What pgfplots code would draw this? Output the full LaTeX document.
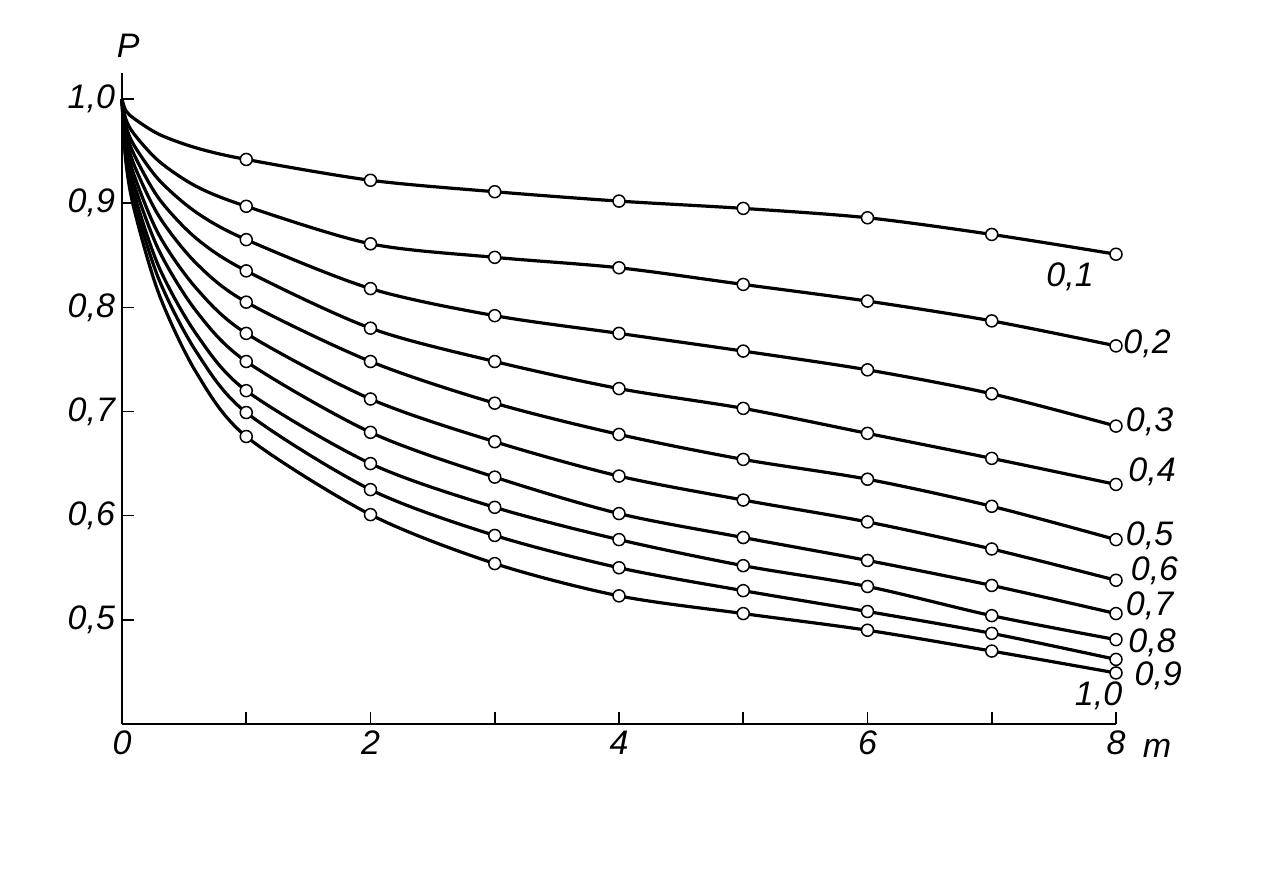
\documentclass[border=0pt]{standalone}
\usepackage{fontspec}
\setmainfont{Liberation Sans}
\usepackage{pgfplots}
\usepackage{pgfplotstable}
\pgfplotsset{compat=1.18}
\pgfplotstableread{
x     c01   c02   c03   c04   c05   c06   c07   c08   c09   c10
0     1.000 1.000 1.000 1.000 1.000 1.000 1.000 1.000 1.000 1.000
0.03  0.989 0.981 0.975 0.970 0.965 0.959 0.954 0.949 0.945 0.941
0.1   0.981 0.966 0.955 0.946 0.936 0.926 0.917 0.908 0.901 0.893
0.3   0.966 0.940 0.922 0.904 0.887 0.869 0.854 0.838 0.826 0.812
0.6   0.953 0.916 0.891 0.866 0.842 0.818 0.796 0.774 0.757 0.737
1     0.942 0.897 0.865 0.835 0.805 0.775 0.748 0.720 0.699 0.676
2     0.922 0.861 0.818 0.780 0.748 0.712 0.680 0.650 0.625 0.601
3     0.911 0.848 0.792 0.748 0.708 0.671 0.637 0.608 0.581 0.554
4     0.902 0.838 0.775 0.722 0.678 0.638 0.602 0.577 0.550 0.523
5     0.895 0.822 0.758 0.703 0.654 0.615 0.579 0.552 0.528 0.506
6     0.886 0.806 0.740 0.679 0.635 0.594 0.557 0.532 0.508 0.490
7     0.870 0.787 0.717 0.655 0.609 0.568 0.533 0.504 0.487 0.470
8     0.851 0.763 0.686 0.630 0.577 0.538 0.506 0.481 0.462 0.449
}\curves
\begin{document}
\begin{tikzpicture}
\useasboundingbox (0,0) rectangle (638pt,435.5pt);
\begin{axis}[
  at={(61pt,73.5pt)}, anchor=south west, scale only axis,
  width=497pt, height=325.5pt,
  xmin=0, xmax=8, ymin=0.4, ymax=1.025,
  axis lines=left, axis line style={-, line width=1pt},
  xtick={0,1,2,3,4,5,6,7,8}, xticklabels={0,,2,,4,,6,,8},
  ytick={0.5,0.6,0.7,0.8,0.9,1.0},
  yticklabels={{0,5},{0,6},{0,7},{0,8},{0,9},{1,0}},
  tick align=inside, major tick length=6pt,
  tick style={black, line width=0.8pt},
  ticklabel style={font=\fontsize{17}{19}\selectfont\itshape},
  clip=false,
  curve/.style={black, solid, line width=1.6pt, smooth,
    mark=*, mark size=3pt, mark indices={6,7,8,9,10,11,12,13},
    mark options={solid, fill=white, draw=black, line width=0.75pt}},
]
\addplot[curve] table[x=x, y=c01] {\curves};
\addplot[curve] table[x=x, y=c02] {\curves};
\addplot[curve] table[x=x, y=c03] {\curves};
\addplot[curve] table[x=x, y=c04] {\curves};
\addplot[curve] table[x=x, y=c05] {\curves};
\addplot[curve] table[x=x, y=c06] {\curves};
\addplot[curve] table[x=x, y=c07] {\curves};
\addplot[curve] table[x=x, y=c08] {\curves};
\addplot[curve] table[x=x, y=c09] {\curves};
\addplot[curve] table[x=x, y=c10] {\curves};
\begin{scope}[every node/.style={font=\fontsize{17}{19}\selectfont\itshape}]
\node at (axis cs:0.05,1.051) {P};
\node at (axis cs:8.33,0.377) {m};
\node at (axis cs:7.63,0.829) {0,1};
\node at (axis cs:8.25,0.765) {0,2};
\node at (axis cs:8.27,0.690) {0,3};
\node at (axis cs:8.29,0.642) {0,4};
\node at (axis cs:8.27,0.581) {0,5};
\node at (axis cs:8.31,0.547) {0,6};
\node at (axis cs:8.27,0.513) {0,7};
\node at (axis cs:8.29,0.478) {0,8};
\node at (axis cs:8.34,0.446) {0,9};
\node at (axis cs:7.86,0.427) {1,0};
\end{scope}
\end{axis}
\end{tikzpicture}
\end{document}
